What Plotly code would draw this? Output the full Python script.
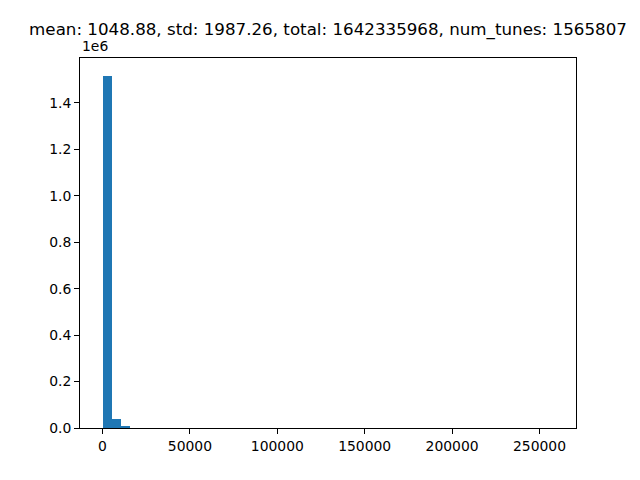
import numpy as np
import plotly.graph_objects as go

# histogram of tune counts, 50 bins between data min and max
data_min = 1
data_max = 258000
n_bins = 50
counts = [1517000, 40000, 7500, 400, 200, 120, 80, 60, 50, 40,
          30, 25, 20, 28, 25, 23, 22, 11, 10, 10,
          9, 9, 8, 8, 8, 7, 7, 7, 6, 6,
          6, 6, 5, 5, 5, 5, 5, 4, 4, 4,
          4, 3, 3, 3, 3, 3, 2, 2, 2, 2]
x_ticks = [0, 50000, 100000, 150000, 200000, 250000]
y_ticks = [0, 200000, 400000, 600000, 800000, 1000000, 1200000, 1400000]
y_tick_text = ['0.0', '0.2', '0.4', '0.6', '0.8', '1.0', '1.2', '1.4']
title = 'mean: 1048.88, std: 1987.26, total: 1642335968, num_tunes: 1565807'

edges = np.linspace(data_min, data_max, n_bins + 1)
centers = (edges[:-1] + edges[1:]) / 2
width = edges[1] - edges[0]

span = data_max - data_min
ymax = max(counts) * 1.05

# alpha just under 1 stops plotly from stretching sub-pixel bars to 1px
fig = go.Figure(go.Bar(x=centers, y=counts, width=width,
                       marker=dict(color='rgba(31,119,180,0.999)', line=dict(width=0))))

axis_style = dict(showline=True, linecolor='black', linewidth=1, mirror=True,
                  ticks='outside', ticklen=5, tickcolor='black', showgrid=False,
                  zeroline=False, layer='above traces',
                  tickfont=dict(size=13.9, color='black'))
fig.update_xaxes(range=[data_min - 0.05 * span, data_max + 0.05 * span],
                 tickvals=x_ticks, ticktext=[str(v) for v in x_ticks], **axis_style)
fig.update_yaxes(range=[0, ymax], tickvals=y_ticks, ticktext=y_tick_text, **axis_style)

# page body has an 8px margin, so the figure is drawn 8px in from the window edge
fig.update_layout(
    width=632, height=472,
    margin=dict(l=72, r=64, t=50, b=52),
    plot_bgcolor='white', paper_bgcolor='white',
    font=dict(family='DejaVu Sans', color='black'),
    bargap=0,
    showlegend=False,
    title=dict(text=title, x=320 / 632, xanchor='center', y=1 - 21 / 472,
               yanchor='middle', font=dict(size=16.7)),
    annotations=[dict(text='1e6', xref='paper', yref='paper', x=0, y=1,
                      xanchor='left', yanchor='bottom', yshift=2, showarrow=False,
                      font=dict(size=13.9))],
)

fig.write_html("out.html")
